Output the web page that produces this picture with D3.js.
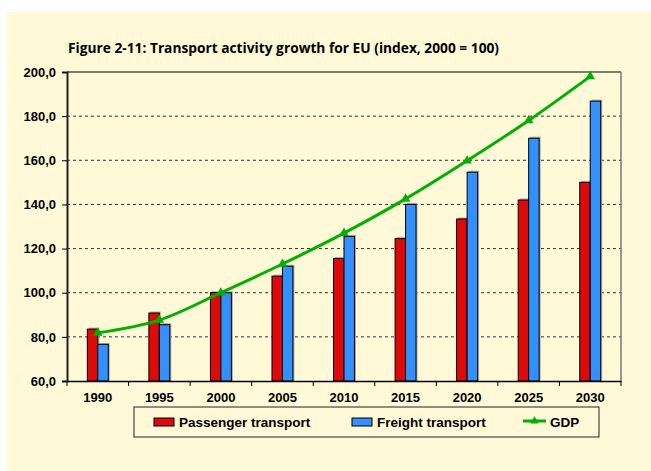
<!DOCTYPE html>
<html>
<head>
<meta charset="utf-8">
<script src="https://cdn.jsdelivr.net/npm/d3@7"></script>
<style>
  body { margin: 0; background: #fff; }
  svg { display: block; }
</style>
</head>
<body>
<svg width="651" height="471"></svg>
<script>
const svg = d3.select('svg');
const width = +svg.attr('width');
const height = +svg.attr('height');

// data
const years = ['1990', '1995', '2000', '2005', '2010', '2015', '2020', '2025', '2030'];
const passenger = [83.5, 90.8, 100, 107.5, 115.5, 124.5, 133.4, 142, 150];
const freight = [76.6, 85.5, 100, 112, 125.5, 140, 154.6, 170, 186.8];
const gdp = [81.8, 87.6, 100, 113, 127, 142.5, 159.8, 178, 198];
const yTicks = [60, 80, 100, 120, 140, 160, 180, 200];

const margin = {top: 72, right: 30, bottom: 90, left: 67};
const innerW = 621 - margin.left;
const innerH = 381 - margin.top;

// cream background panel
svg.append('rect')
    .attr('x', 7).attr('y', 12)
    .attr('width', width - 7).attr('height', height - 12)
    .attr('fill', '#fff9d8');

svg.append('text')
    .attr('x', 68).attr('y', 53)
    .attr('font-family', 'Open Sans, sans-serif')
    .attr('font-weight', 'bold')
    .attr('font-size', 14)
    .attr('textLength', 431)
    .attr('lengthAdjust', 'spacingAndGlyphs')
    .text('Figure 2-11: Transport activity growth for EU (index, 2000 = 100)');

const g = svg.append('g').attr('transform', `translate(${margin.left},${margin.top})`);

const x = d3.scaleBand().domain(years).range([0, innerW]);
const y = d3.scaleLinear().domain([60, 200]).range([innerH, 0]);
const barW = x.bandwidth() * 0.17;

// gridlines
g.selectAll('.grid')
    .data(yTicks.filter(d => d > 60 && d < 200))
    .enter().append('line')
    .attr('x1', 0).attr('x2', innerW)
    .attr('y1', d => y(d)).attr('y2', d => y(d))
    .attr('stroke', '#333')
    .attr('stroke-dasharray', '3,3')
    .attr('stroke-width', 1);

// plot frame: top black, right grey
g.append('line').attr('x1', 0).attr('x2', innerW).attr('y1', 0).attr('y2', 0)
    .attr('stroke', '#000').attr('stroke-width', 1.2);
g.append('line').attr('x1', innerW).attr('x2', innerW).attr('y1', 0).attr('y2', innerH)
    .attr('stroke', '#777').attr('stroke-width', 1.5);

const series = [
    {name: 'Passenger transport', values: passenger, color: '#dd0a0a', off: -barW},
    {name: 'Freight transport', values: freight, color: '#3390ff', off: 0}
];

series.forEach(s => {
    // shadow
    g.selectAll(null)
        .data(s.values)
        .enter().append('rect')
        .attr('x', (d, i) => x(years[i]) + x.bandwidth() / 2 + s.off + 1.5)
        .attr('y', d => y(d) - 1.5)
        .attr('width', barW)
        .attr('height', d => innerH - y(d) + 1.5)
        .attr('fill', '#b0ab95');
    g.selectAll(null)
        .data(s.values)
        .enter().append('rect')
        .attr('x', (d, i) => x(years[i]) + x.bandwidth() / 2 + s.off)
        .attr('y', d => y(d))
        .attr('width', barW)
        .attr('height', d => innerH - y(d))
        .attr('fill', s.color)
        .attr('stroke', '#000')
        .attr('stroke-width', 1);
});

// GDP line
const line = d3.line()
    .x((d, i) => x(years[i]) + x.bandwidth() / 2)
    .y(d => y(d))
    .curve(d3.curveCatmullRom);

g.append('path')
    .datum(gdp)
    .attr('d', line)
    .attr('fill', 'none')
    .attr('stroke', '#00b000')
    .attr('stroke-width', 3);

g.selectAll('.tri')
    .data(gdp)
    .enter().append('path')
    .attr('d', d3.symbol().type(d3.symbolTriangle).size(40))
    .attr('transform', (d, i) => `translate(${x(years[i]) + x.bandwidth() / 2},${y(d)})`)
    .attr('fill', '#00b000');

// axes
const yAxis = g.append('g')
    .call(d3.axisLeft(y).tickValues(yTicks).tickSize(5).tickFormat(d => d3.format('.1f')(d).replace('.', ',')));
yAxis.select('.domain').attr('stroke', '#222').attr('stroke-width', 2);
yAxis.selectAll('text')
    .attr('font-family', 'Liberation Sans, Arial, sans-serif')
    .attr('font-weight', 'bold')
    .attr('font-size', 13)
    .attr('fill', '#000')
    .attr('x', -11);

const xAxis = g.append('g')
    .attr('transform', `translate(0,${innerH})`)
    .call(d3.axisBottom(x).tickSize(0).tickPadding(12));
xAxis.select('.domain').attr('stroke', '#000').attr('stroke-width', 1.5);
xAxis.selectAll('text')
    .attr('font-family', 'Liberation Sans, Arial, sans-serif')
    .attr('font-weight', 'bold')
    .attr('font-size', 13)
    .attr('fill', '#000');

// category separator ticks
g.selectAll('.xtick')
    .data(years.concat(['end']))
    .enter().append('line')
    .attr('x1', (d, i) => i * x.step())
    .attr('x2', (d, i) => i * x.step())
    .attr('y1', innerH).attr('y2', innerH + 5)
    .attr('stroke', '#000');

// legend
const legend = svg.append('g').attr('transform', 'translate(134,407)');
legend.append('rect')
    .attr('width', 465).attr('height', 30)
    .attr('fill', 'none')
    .attr('stroke', '#222').attr('stroke-width', 1);

const legItems = [
    {name: series[0].name, color: series[0].color, x: 20, type: 'bar'},
    {name: series[1].name, color: series[1].color, x: 218, type: 'bar'},
    {name: 'GDP', color: '#00b000', x: 389, type: 'line'}
];

legItems.forEach(it => {
    if (it.type === 'bar') {
        legend.append('rect')
            .attr('x', it.x).attr('y', 11)
            .attr('width', 20).attr('height', 8)
            .attr('fill', it.color).attr('stroke', '#000');
    } else {
        legend.append('line')
            .attr('x1', it.x).attr('x2', it.x + 23)
            .attr('y1', 14).attr('y2', 14)
            .attr('stroke', it.color).attr('stroke-width', 3);
        legend.append('path')
            .attr('d', d3.symbol().type(d3.symbolTriangle).size(30))
            .attr('transform', `translate(${it.x + 11.5},14)`)
            .attr('fill', it.color);
    }
    legend.append('text')
        .attr('x', it.x + (it.type === 'bar' ? 25 : 27))
        .attr('y', 19.5)
        .attr('font-family', 'Liberation Sans, Arial, sans-serif')
        .attr('font-weight', 'bold')
        .attr('font-size', 13.5)
        .text(it.name);
});
</script>
</body>
</html>
